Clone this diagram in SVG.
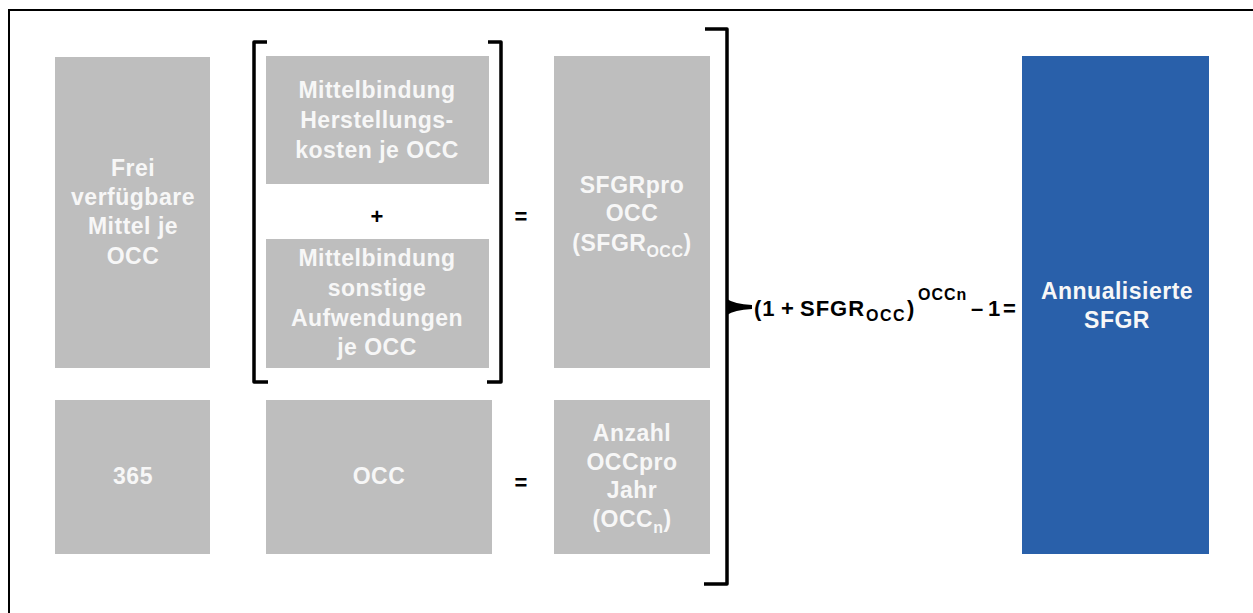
<svg xmlns="http://www.w3.org/2000/svg" width="1253" height="613" viewBox="0 0 1253 613">
  <style>
    .box { fill: #bebebe; }
    .blue { fill: #2960aa; }
    .lbl { font-family: "Liberation Sans", Arial, sans-serif; font-size: 23px; font-weight: bold; fill: #f7f7f7; text-anchor: middle; letter-spacing: 0.5px; }
    .sub { font-size: 16px; letter-spacing: 0.5px; }
    .op { font-family: "Liberation Sans", Arial, sans-serif; font-size: 22px; font-weight: bold; fill: #000; text-anchor: middle; }
    .fx { font-family: "Liberation Sans", Arial, sans-serif; font-size: 22px; font-weight: bold; fill: #000; letter-spacing: 1px; }
    .fxs { font-family: "Liberation Sans", Arial, sans-serif; font-size: 16px; font-weight: bold; fill: #000; letter-spacing: 1.5px; }
    .fxp { font-family: "Liberation Sans", Arial, sans-serif; font-size: 16px; font-weight: bold; fill: #000; letter-spacing: 1px; }
    .brk { fill: none; stroke: #000; stroke-width: 3.5; stroke-linejoin: round; }
  </style>

  <rect width="1253" height="613" fill="#fff"/>
  <!-- outer frame (right and bottom edges run past the canvas) -->
  <rect x="9" y="10" width="1300" height="640" fill="none" stroke="#000" stroke-width="2"/>

  <g id="frei-mittel">
    <rect class="box" x="55" y="57" width="155" height="311"/>
    <text class="lbl" x="133" y="176">Frei</text>
    <text class="lbl" x="133" y="205">verfügbare</text>
    <text class="lbl" x="133" y="234">Mittel je</text>
    <text class="lbl" x="133" y="264">OCC</text>
  </g>

  <g id="mb-herstellung">
    <rect class="box" x="266" y="56" width="223" height="128"/>
    <text class="lbl" x="377" y="98">Mittelbindung</text>
    <text class="lbl" x="377" y="128">Herstellungs-</text>
    <text class="lbl" x="377" y="158">kosten je OCC</text>
  </g>

  <g id="mb-sonstige">
    <rect class="box" x="266" y="239" width="223" height="129"/>
    <text class="lbl" x="377" y="266">Mittelbindung</text>
    <text class="lbl" x="377" y="296">sonstige</text>
    <text class="lbl" x="377" y="326">Aufwendungen</text>
    <text class="lbl" x="377" y="355">je OCC</text>
  </g>

  <g id="sfgr-occ">
    <rect class="box" x="554" y="56" width="156" height="312"/>
    <text class="lbl" x="632" y="193">SFGRpro</text>
    <text class="lbl" x="632" y="221">OCC</text>
    <text class="lbl" x="632" y="251">(SFGR<tspan class="sub" dy="6">OCC</tspan><tspan dy="-6">)</tspan></text>
  </g>

  <g id="tage">
    <rect class="box" x="55" y="400" width="155" height="154"/>
    <text class="lbl" x="133" y="484">365</text>
  </g>

  <g id="occ">
    <rect class="box" x="266" y="400" width="226" height="154"/>
    <text class="lbl" x="379" y="484">OCC</text>
  </g>

  <g id="anzahl-occ">
    <rect class="box" x="554" y="400" width="156" height="154"/>
    <text class="lbl" x="632" y="441">Anzahl</text>
    <text class="lbl" x="632" y="470">OCCpro</text>
    <text class="lbl" x="632" y="498">Jahr</text>
    <text class="lbl" x="632" y="527">(OCC<tspan class="sub" dy="6">n</tspan><tspan dy="-6">)</tspan></text>
  </g>

  <g id="annualisiert">
    <rect class="blue" x="1022" y="56" width="187" height="498"/>
    <text class="lbl" x="1117" y="299">Annualisierte</text>
    <text class="lbl" x="1117" y="328">SFGR</text>
  </g>

  <g id="connectors">
    <!-- square brackets round the two Mittelbindung terms -->
    <path class="brk" d="M267,42 H254 V382 H268"/>
    <path class="brk" d="M488,42 H501 V382 H487"/>
    <!-- operators -->
    <text class="op" x="377" y="224">+</text>
    <text class="op" x="521" y="224">=</text>
    <text class="op" x="521" y="490">=</text>
    <!-- large brace gathering both results -->
    <path class="brk" d="M705,29 H727 V584 H704"/>
    <path d="M727,299 Q734,304 752,305 L752,309 Q734,310 727,315 Z" fill="#000"/>
    <!-- formula -->
    <text class="fx" x="754" y="316">(1</text>
    <text class="fx" x="781" y="316">+</text>
    <text class="fx" x="800" y="316">SFGR</text>
    <text class="fxs" x="866" y="321">OCC</text>
    <text class="fx" x="907" y="316">)</text>
    <text class="fxp" x="918" y="300">OCCn</text>
    <text class="fx" x="971" y="316">–</text>
    <text class="fx" x="988" y="316">1</text>
    <text class="fx" x="1003" y="316">=</text>
  </g>
</svg>
